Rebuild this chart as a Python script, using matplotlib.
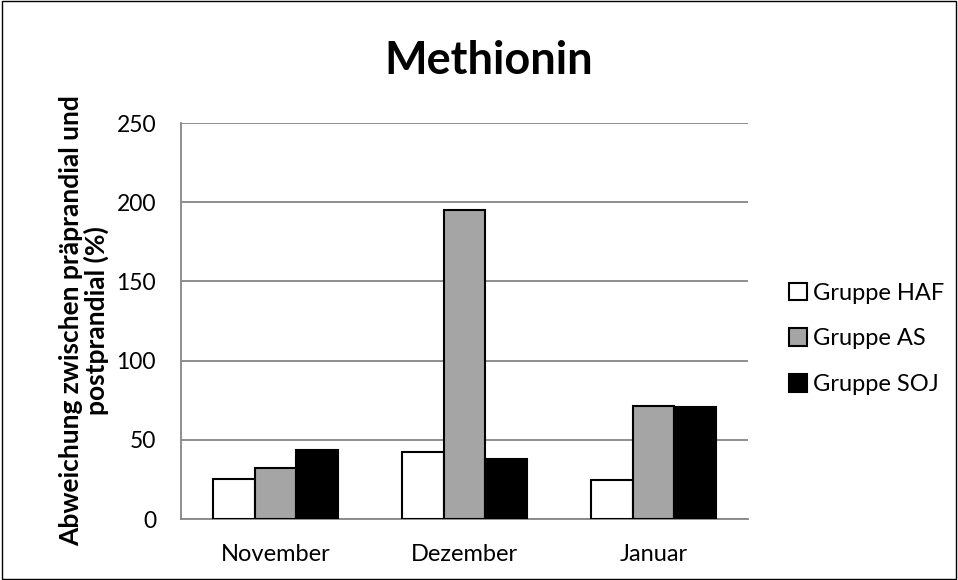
import matplotlib.pyplot as plt
import numpy as np
from matplotlib.patches import Rectangle

plt.rcParams['font.family'] = ['Lato', 'DejaVu Sans']

months = ["November", "Dezember", "Januar"]
groups = ["Gruppe HAF", "Gruppe AS", "Gruppe SOJ"]
haf = [25.5, 42, 24.7]
as_vals = [32, 195, 71.3]
soj = [43.8, 38, 70.6]
colors = ["#FFFFFF", "#A5A5A5", "#000000"]

fig = plt.figure(figsize=(9.58, 5.8), dpi=100)
ax = fig.add_axes([181 / 958, 1 - 519 / 580, 567 / 958, 396 / 580])

x = np.arange(len(months))
width = 0.222
for i, (vals, name, col) in enumerate(zip([haf, as_vals, soj], groups, colors)):
    ax.bar(x + (i - 1) * width, vals, width, color=col, edgecolor="black", linewidth=1.5, label=name, zorder=3)

ax.set_xlim(-0.5, 2.5)
ax.set_ylim(0, 250)
ax.set_yticks(np.arange(0, 251, 50))
ax.set_xticks(x, months)
ax.tick_params(axis="y", length=0, labelsize=16.5, pad=18)
ax.tick_params(axis="x", length=0, labelsize=17, pad=18)
ax.grid(axis="y", color="#868686", linewidth=1.3, zorder=0)
for side in ["top", "right"]:
    ax.spines[side].set_visible(False)
for side in ["left", "bottom"]:
    ax.spines[side].set_color("#868686")
    ax.spines[side].set_linewidth(1.3)

ax.set_ylabel("Abweichung zwischen präprandial und\npostprandial (%)", fontsize=19, fontweight="bold",
              labelpad=5, linespacing=1.05)
fig.text(489 / 958, 1 - 61 / 580, "Methionin", ha="center", va="center", fontsize=32.5, fontweight="bold")

ax.legend(loc="center left", bbox_to_anchor=(1.035, 0.455), frameon=False, fontsize=17,
          handlelength=0.75, handleheight=0.75, handletextpad=0.25, labelspacing=1.05)

fig.patches.append(Rectangle((0.002, 0.002), 0.996, 0.996, transform=fig.transFigure,
                             fill=False, edgecolor="#000000", linewidth=1))

fig.savefig("out.png", dpi=100, facecolor="white")
